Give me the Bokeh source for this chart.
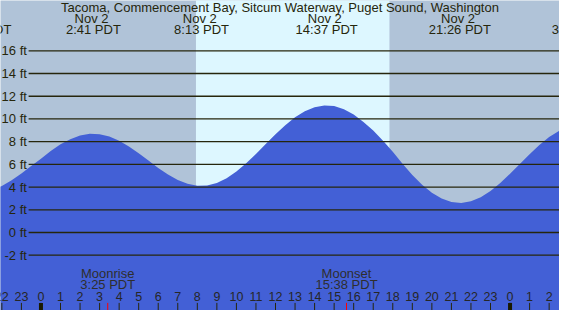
from bokeh.plotting import figure
from bokeh.models import Range1d
from bokeh.core.properties import value
from bokeh.embed import file_html
from bokeh.resources import INLINE

# ---- data ----
title = "Tacoma, Commencement Bay, Sitcum Waterway, Puget Sound, Washington"

# tide height (ft) every half hour, hours relative to midnight Nov 2 (PDT)
tide_hours = [-2.5, -2.0, -1.5, -1.0, -0.5, 0.0, 0.5, 1.0, 1.5, 2.0, 2.5,
              3.0, 3.5, 4.0, 4.5, 5.0, 5.5, 6.0, 6.5, 7.0, 7.5, 8.0,
              8.5, 9.0, 9.5, 10.0, 10.5, 11.0, 11.5, 12.0, 12.5, 13.0, 13.5, 14.0, 14.5,
              15.0, 15.5, 16.0, 16.5, 17.0, 17.5, 18.0, 18.5, 19.0, 19.5, 20.0, 20.5, 21.0,
              21.5, 22.0, 22.5, 23.0, 23.5, 24.0, 24.5, 25.0, 25.5, 26.0, 26.5, 27.0]
tide_ft = [3.74, 4.10, 4.60, 5.19, 5.86, 6.50, 7.18, 7.76, 8.22, 8.54, 8.69,
           8.66, 8.46, 8.08, 7.58, 6.98, 6.34, 5.69, 5.11, 4.63, 4.29, 4.12,
           4.13, 4.36, 4.78, 5.37, 6.10, 6.92, 7.79, 8.65, 9.44, 10.14, 10.68, 11.04, 11.19,
           11.13, 10.85, 10.38, 9.74, 8.98, 8.08, 7.10, 6.05, 5.06, 4.20, 3.50, 2.99, 2.68,
           2.60, 2.75, 3.10, 3.65, 4.35, 5.17, 6.04, 6.90, 7.71, 8.40, 8.93, 9.27]

# high / low tide events
event_hours = [-3.1, 2.683, 8.217, 14.617, 21.433, 27.533]
event_dates = ["Nov  1", "Nov  2", "Nov  2", "Nov  2", "Nov  2", "Nov  3"]
event_times = ["20:54 PDT", "2:41 PDT", "8:13 PDT", "14:37 PDT", "21:26 PDT", "3:32 PDT"]

# daylight (sunrise, sunset)
sun_hours = [7.93, 17.83]

# moon events
moon_hours = [3.417, 15.633]
moon_names = ["Moonrise", "Moonset"]
moon_times = ["3:25 PDT", "15:38 PDT"]

# y grid
grid_ft = [-2, 0, 2, 4, 6, 8, 10, 12, 14, 16]
grid_labels = ["-2 ft", "0 ft", "2 ft", "4 ft", "6 ft", "8 ft", "10 ft", "12 ft", "14 ft", "16 ft"]

# x hour ticks
hour_ticks = list(range(-2, 27))
hour_labels = [str(h % 24) for h in hour_ticks]
midnights = [0, 24]

# ---- style ----
NIGHT = "#B0C3D8"
DAY = "#DDF7FF"
WATER = "#4360D6"
INK = "#26260c"
FONT = value("Liberation Sans")
FS = "13px"

x0, x1 = -2.07, 26.53
y0, y1 = -6.87, 20.43

p = figure(width=559, height=310, x_range=Range1d(x0, x1), y_range=Range1d(y0, y1),
           output_backend="svg", toolbar_location=None, min_border=0)
p.axis.visible = False
p.grid.visible = False
p.outline_line_color = None
p.background_fill_color = NIGHT
p.border_fill_color = NIGHT

# daylight band
p.quad(left=[sun_hours[0]], right=[sun_hours[1]], bottom=[y0 - 5], top=[y1 + 5],
       fill_color=DAY, line_color=None)

# tide area
p.varea(x=tide_hours, y1=[y0 - 5] * len(tide_hours), y2=tide_ft, fill_color=WATER)

# grid lines
gx0 = -0.632
p.segment(x0=[gx0] * len(grid_ft), x1=[x1 + 1] * len(grid_ft), y0=grid_ft, y1=grid_ft,
          line_color=INK, line_width=1.3)
p.text(x=[-0.72] * len(grid_ft), y=grid_ft, text=grid_labels, text_align="right",
       text_baseline="middle", text_font=FONT, text_font_size=FS, text_color=INK)

# title & tide events
p.text(x=[(x0 + x1) / 2], y=[19.85], text=[title], text_align="center", text_baseline="middle",
       text_font=FONT, text_font_size=FS, text_color=INK)
p.text(x=event_hours, y=[18.85] * len(event_hours), text=event_dates, text_align="center",
       text_baseline="middle", text_font=FONT, text_font_size=FS, text_color=INK)
p.text(x=event_hours, y=[17.85] * len(event_hours), text=event_times, text_align="center",
       text_baseline="middle", text_font=FONT, text_font_size=FS, text_color=INK)

# moon events
p.text(x=moon_hours, y=[-3.58] * 2, text=moon_names, text_align="center", text_baseline="middle",
       text_font=FONT, text_font_size=FS, text_color="#2e2e2e")
p.text(x=moon_hours, y=[-4.6] * 2, text=moon_times, text_align="center", text_baseline="middle",
       text_font=FONT, text_font_size=FS, text_color="#2e2e2e")

# hour labels and ticks
p.text(x=hour_ticks, y=[-5.64] * len(hour_ticks), text=hour_labels, text_align="center",
       text_baseline="middle", text_font=FONT, text_font_size="12.5px", text_color="#262626")
p.segment(x0=hour_ticks, x1=hour_ticks, y0=[y0 - 1] * len(hour_ticks), y1=[-6.2] * len(hour_ticks),
          line_color=INK, line_width=1)
p.segment(x0=midnights, x1=midnights, y0=[y0 - 1] * 2, y1=[-6.2] * 2,
          line_color="#1a1a00", line_width=4)
p.segment(x0=moon_hours, x1=moon_hours, y0=[y0 - 1] * 2, y1=[-6.2] * 2,
          line_color="#ff0000", line_width=1)

open("out.html", "w").write(file_html(p, INLINE))
